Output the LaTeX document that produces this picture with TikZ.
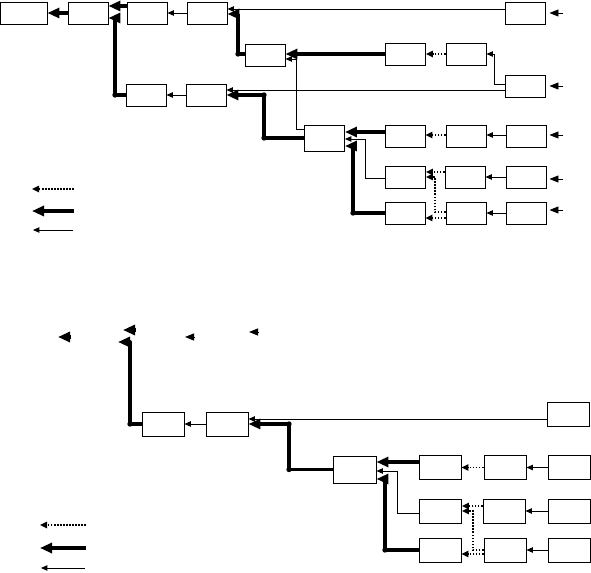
\documentclass[tikz,border=0pt]{standalone}
\usepackage{tikz}
\usetikzlibrary{arrows.meta}
\tikzset{
  blk/.style={draw, line width=0.8pt, minimum width=1.2cm, minimum height=0.66cm,
              inner sep=0pt},
  bigblk/.style={blk, minimum width=1.26cm, minimum height=0.72cm},
  thinarr/.style={-{Triangle[length=1.9mm, width=1.6mm]}, line width=0.8pt},
  inarr/.style={-{Triangle[length=2.7mm, width=2.1mm]}, line width=0.8pt},
  thickarr/.style={-{Triangle[length=3.6mm, width=3mm]}, line width=3.4pt, line join=round},
  dotarr/.style={-{Triangle[length=2.1mm, width=1.9mm]}, line width=1.6pt,
                 dash pattern=on 1.4pt off 1.2pt},
  dotarrbold/.style={dotarr, line width=2.4pt},
  kink/.style={circle, fill, inner sep=0pt, minimum size=1.6mm},
}

\begin{document}
\begin{tikzpicture}[x=0.03cm, y=-0.03cm]
    \useasboundingbox (0,0) rectangle (591,573);
    % upper chart
    \node[blk, minimum width=1.41cm] (A) at (23.5,13) {};
    \node[blk] (B) at (88,13) {};
    \node[blk] (C) at (147,13) {};
    \node[blk] (D) at (207,13) {};
    \node[blk] (E) at (265,55.5) {};
    \node[blk] (F) at (146,95) {};
    \node[blk] (G) at (206,95) {};
    \node[blk] (H) at (525,13) {};
    \node[blk] (I) at (405.5,54) {};
    \node[blk] (J) at (466,54) {};
    \node[blk] (K) at (525,86) {};
    \node[blk, minimum height=0.78cm] (L) at (324.5,138) {};
    \node[blk] (ra1) at (405,136) {};
    \node[blk] (rb1) at (466,136) {};
    \node[blk] (rc1) at (526,136) {};
    \node[blk] (ra2) at (405.5,177) {};
    \node[blk] (rb2) at (465,177) {};
    \node[blk] (rc2) at (526,177) {};
    \node[blk] (ra3) at (405,213) {};
    \node[blk] (rb3) at (466,213) {};
    \node[blk] (rc3) at (526,213) {};

    \draw[thickarr] (B.west) -- (A.east);
    \draw[thickarr] (C.west |- 0,6) -- (B.east |- 0,6);
    \draw[thickarr] (F.west) -- (115,95) node[kink] {} -- (115,18) -- (B.east |- 0,18);
    \draw[thinarr] (D.west) -- (C.east);
    \draw[thinarr] (H.west |- 0,9) -- (D.east |- 0,9);
    \draw[thickarr] (E.west |- 0,54) -- (238,54) node[kink] {} -- (238,14) -- (D.east |- 0,14);
    \draw[thickarr] (I.west) -- (E.east |- I.west);
    \draw[thinarr] (L.west |- 0,129) -- (296,129) -- (296,59) -- (E.east |- 0,59);
    \draw[dotarr] (J.west) -- (I.east);
    \draw[thinarr] (K.west |- 0,84) -- (494,84) -- (494,54) -- (J.east);
    \draw[thinarr] (K.west |- 0,90) -- (G.east |- 0,90);
    \draw[thickarr] (L.west) -- (264,138) node[kink] {} -- (264,95) node[kink] {} -- (G.east);
    \draw[thinarr] (G.west) -- (F.east);
    \draw[thickarr] (ra1.west |- 0,132) -- (L.east |- 0,132);
    \draw[thinarr] (ra2.west |- 0,178) -- (365,178) -- (365,139) -- (L.east |- 0,139);
    \draw[thickarr] (ra3.west) -- (353,213) node[kink] {} -- (353,146) -- (L.east |- 0,146);
    \draw[dotarr] (rb1.west |- 0,135) -- (ra1.east |- 0,135);
    \draw[thinarr] (rc1.west |- 0,135) -- (rb1.east |- 0,135);
    \draw[dotarr] (rb2.west |- 0,172) -- (ra2.east |- 0,172);
    \draw[dotarrbold] (rb3.west |- 0,212) -- (435,212) -- (435,177) -- (ra2.east |- 0,177);
    \draw[dotarr] (rb3.west |- 0,218) -- (ra3.east |- 0,218);
    \draw[thinarr] (rc2.west) -- (rb2.east);
    \draw[thinarr] (rc3.west) -- (rb3.east);
    % inputs from the right
    \draw[inarr] ([xshift=0.54cm]H.east) -- ([xshift=0.12cm]H.east);
    \draw[inarr] ([xshift=0.54cm]K.east) -- ([xshift=0.12cm]K.east);
    \draw[inarr] ([xshift=0.51cm]rc1.east |- 0,135) -- ([xshift=0.09cm]rc1.east |- 0,135);
    \draw[inarr] ([xshift=0.51cm]rc2.east |- 0,179) -- ([xshift=0.09cm]rc2.east |- 0,179);
    \draw[inarr] ([xshift=0.51cm]rc3.east |- 0,210) -- ([xshift=0.09cm]rc3.east |- 0,210);
    % key
    \draw[dotarr] (74,189) coordinate (k1) -- (32,189) coordinate (k1e);
    \draw[thickarr] (74,211) coordinate (k2) -- (32,211) coordinate (k2e);
    \draw[thinarr] (73,230) coordinate (k3) -- (33,230) coordinate (k3e);

    % lower chart
    \draw[thickarr] (71,337) coordinate (h1) -- (58,337) coordinate (h1e);
    \draw[thickarr] (136,330) coordinate (h2) -- (123,330) coordinate (h2e);
    \draw[inarr] (194,337) coordinate (h3) -- (185,337) coordinate (h3e);
    \draw[inarr] (258,332) coordinate (h4) -- (249,332) coordinate (h4e);

    \node[bigblk] (P) at (163,424) {};
    \node[bigblk] (Q) at (227,424) {};
    \node[bigblk] (S) at (568.5,414) {};
    \node[bigblk, minimum width=1.29cm, minimum height=0.81cm] (M) at (354.5,469.5) {};
    \node[bigblk] (ta1) at (440,467.5) {};
    \node[bigblk] (tb1) at (505,467.5) {};
    \node[bigblk] (tc1) at (569,467.5) {};
    \node[bigblk] (ta2) at (440.5,511) {};
    \node[bigblk] (tb2) at (504,511) {};
    \node[bigblk] (tc2) at (569,511) {};
    \node[bigblk] (ta3) at (440,550) {};
    \node[bigblk] (tb3) at (505,550) {};
    \node[bigblk] (tc3) at (569,550) {};

    \draw[thickarr] (P.west) -- (130,424) node[kink] {} -- (130,342) -- (118,342);
    \draw[thinarr] (Q.west) -- (P.east);
    \draw[thinarr] (S.west |- 0,419) -- (Q.east |- 0,419);
    \draw[thickarr] (M.west) -- (289,469.5) node[kink] {} -- (289,424) node[kink] {} -- (Q.east);
    \draw[thickarr] (ta1.west |- 0,462) -- (M.east |- 0,462);
    \draw[thinarr] (ta2.west |- 0,513) -- (397,513) -- (397,471) -- (M.east |- 0,471);
    \draw[thickarr] (ta3.west) -- (385,550) node[kink] {} -- (385,479) -- (M.east |- 0,479);
    \draw[dotarr] (tb1.west) -- (ta1.east);
    \draw[thinarr] (tc1.west) -- (tb1.east);
    \draw[dotarr] (tb2.west |- 0,506) -- (ta2.east |- 0,506);
    \draw[dotarrbold] (tb3.west) -- (473,550) -- (473,511) -- (ta2.east);
    \draw[dotarr] (tb3.west |- 0,554) -- (ta3.east |- 0,554);
    \draw[thinarr] (tc2.west) -- (tb2.east);
    \draw[thinarr] (tc3.west) -- (tb3.east);
    % key
    \draw[dotarr] (86,525) coordinate (k4) -- (40,525) coordinate (k4e);
    \draw[thickarr] (86,548) coordinate (k5) -- (40,548) coordinate (k5e);
    \draw[thinarr] (85,568) coordinate (k6) -- (41,568) coordinate (k6e);
\end{tikzpicture}
\end{document}
